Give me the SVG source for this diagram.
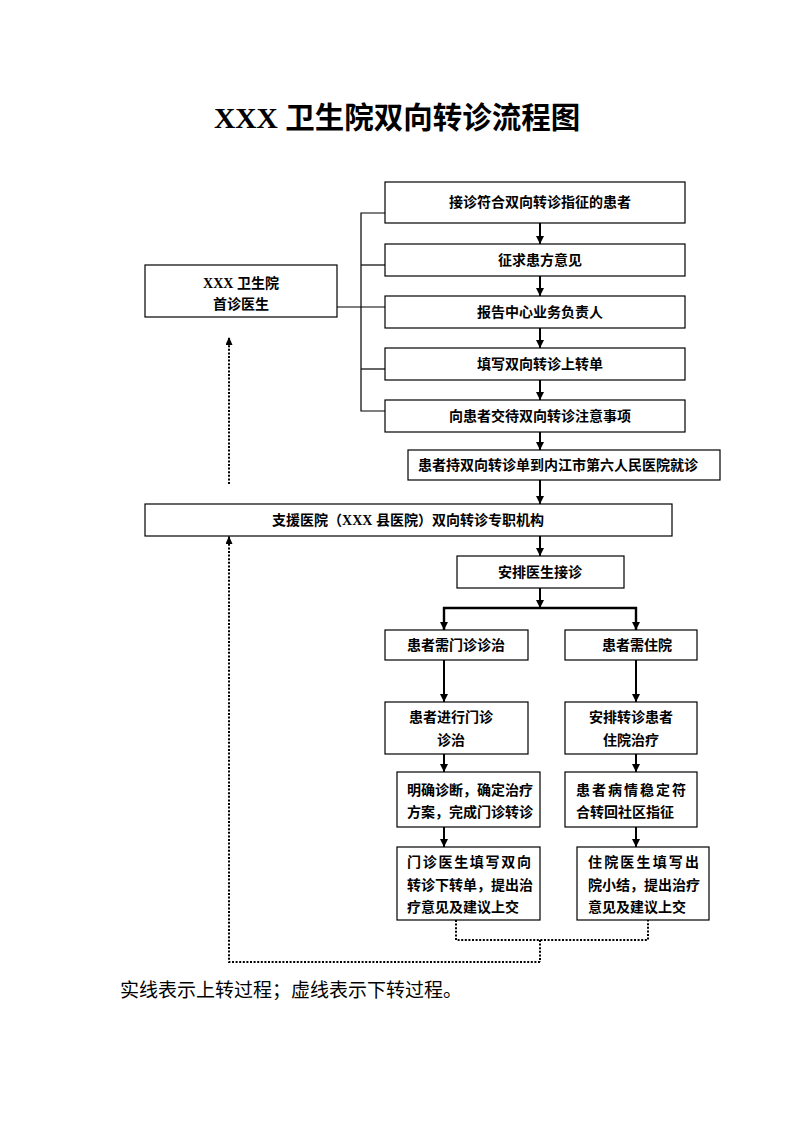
<svg xmlns="http://www.w3.org/2000/svg" width="793" height="1122" viewBox="0 0 793 1122">
<style>
.box{fill:#fff;stroke:#000;stroke-width:1.2}
.t{font-family:"Liberation Serif","Noto Sans CJK SC",serif;font-size:14px;font-weight:bold;fill:#000}
.c{text-anchor:middle}
.thin{stroke:#000;stroke-width:1.2;fill:none}
.arr{stroke:#000;stroke-width:2;fill:none;marker-end:url(#ah)}
.dot{stroke:#000;stroke-width:2;fill:none;stroke-dasharray:2,1.6}
.darr{stroke:#000;stroke-width:2;fill:none;stroke-dasharray:2,1.6;marker-end:url(#ah2)}
</style>
<defs>
<marker id="ah" markerUnits="userSpaceOnUse" markerWidth="9" markerHeight="9" refX="8" refY="4" orient="auto"><path d="M0,0 L8,4 L0,8 z" fill="#000"/></marker>
<marker id="ah2" markerUnits="userSpaceOnUse" markerWidth="9" markerHeight="9" refX="8" refY="3.5" orient="auto"><path d="M0,0 L8,3.5 L0,7 z" fill="#000"/></marker>
</defs>
<rect width="793" height="1122" fill="#fff"/>
<text x="214" y="128" style="font-family:'Liberation Serif','Noto Sans CJK SC',serif;font-size:29.5px;font-weight:bold">XXX 卫生院双向转诊流程图</text>

<g id="connectors">
<polyline class="thin" points="385,213 361,213 361,411 385,411"/>
<line class="thin" x1="361" y1="265" x2="385" y2="265"/>
<line class="thin" x1="337" y1="307" x2="385" y2="307"/>
<line class="thin" x1="361" y1="369" x2="385" y2="369"/>
<line class="arr" x1="540" y1="223" x2="540" y2="244"/>
<line class="arr" x1="540" y1="276" x2="540" y2="296"/>
<line class="arr" x1="540" y1="328" x2="540" y2="348"/>
<line class="arr" x1="540" y1="380" x2="540" y2="400"/>
<line class="arr" x1="540" y1="432" x2="540" y2="450"/>
<line class="arr" x1="540" y1="480" x2="540" y2="504"/>
<line class="arr" x1="540" y1="536" x2="540" y2="556"/>
<line class="arr" x1="540" y1="588" x2="540" y2="608"/>
<polyline style="stroke:#000;stroke-width:2.4;fill:none" points="444,630 444,608 636,608 636,630"/>
<line class="arr" x1="444" y1="608" x2="444" y2="630"/>
<line class="arr" x1="636" y1="608" x2="636" y2="630"/>
<line class="arr" x1="444" y1="660" x2="444" y2="702"/>
<line class="arr" x1="636" y1="660" x2="636" y2="702"/>
<line class="arr" x1="444" y1="754" x2="444" y2="772"/>
<line class="arr" x1="636" y1="754" x2="636" y2="772"/>
<line class="arr" x1="444" y1="827" x2="444" y2="847"/>
<line class="arr" x1="636" y1="827" x2="636" y2="847"/>
<polyline class="dot" points="456,920 456,940 648,940 648,920"/>
<line class="dot" x1="540" y1="940" x2="540" y2="962"/>
<polyline class="darr" points="540,962 229,962 229,536"/>
<line class="darr" x1="229" y1="484" x2="229" y2="337"/>
</g>

<g id="n_first"><rect class="box" x="145" y="265" width="192" height="52"/>
<text class="t c" x="241" y="288">XXX 卫生院</text><text class="t c" x="241" y="309">首诊医生</text></g>
<g id="n_a"><rect class="box" x="385" y="182" width="300" height="41"/><text class="t c" x="540" y="207">接诊符合双向转诊指征的患者</text></g>
<g id="n_b"><rect class="box" x="385" y="244" width="300" height="32"/><text class="t c" x="540" y="265">征求患方意见</text></g>
<g id="n_c"><rect class="box" x="385" y="296" width="300" height="32"/><text class="t c" x="540" y="317">报告中心业务负责人</text></g>
<g id="n_d"><rect class="box" x="385" y="348" width="300" height="32"/><text class="t c" x="540" y="369">填写双向转诊上转单</text></g>
<g id="n_e"><rect class="box" x="385" y="400" width="300" height="32"/><text class="t c" x="540" y="421">向患者交待双向转诊注意事项</text></g>
<g id="n_f"><rect class="box" x="408" y="450" width="312" height="30"/><text class="t c" x="558" y="470">患者持双向转诊单到内江市第六人民医院就诊</text></g>
<g id="n_g"><rect class="box" x="145" y="504" width="527" height="32"/><text class="t c" x="408" y="525">支援医院（XXX 县医院）双向转诊专职机构</text></g>
<g id="n_h"><rect class="box" x="457" y="556" width="167" height="32"/><text class="t c" x="540" y="577">安排医生接诊</text></g>
<g id="n_i"><rect class="box" x="385" y="630" width="143" height="30"/><text class="t c" x="456" y="650">患者需门诊诊治</text></g>
<g id="n_j"><rect class="box" x="565" y="630" width="132" height="30"/><text class="t c" x="637" y="650">患者需住院</text></g>
<g id="n_k"><rect class="box" x="385" y="702" width="143" height="52"/>
<text class="t" x="409" y="722">患者进行门诊</text><text class="t c" x="451" y="745">诊治</text></g>
<g id="n_l"><rect class="box" x="565" y="702" width="132" height="52"/>
<text class="t c" x="631" y="722">安排转诊患者</text><text class="t c" x="631" y="745">住院治疗</text></g>
<g id="n_m"><rect class="box" x="397" y="772" width="143" height="55"/>
<text class="t" x="407" y="795">明确诊断，确定治疗</text><text class="t" x="407" y="817">方案，完成门诊转诊</text></g>
<g id="n_n"><rect class="box" x="565" y="772" width="132" height="55"/>
<text class="t" x="576" y="795" textLength="110" lengthAdjust="spacing">患者病情稳定符</text><text class="t" x="576" y="817">合转回社区指征</text></g>
<g id="n_o"><rect class="box" x="397" y="847" width="143" height="73"/>
<text class="t" x="407" y="867" textLength="124" lengthAdjust="spacing">门诊医生填写双向</text><text class="t" x="407" y="890">转诊下转单，提出治</text><text class="t" x="407" y="912">疗意见及建议上交</text></g>
<g id="n_p"><rect class="box" x="577" y="847" width="132" height="73"/>
<text class="t" x="588" y="867" textLength="111" lengthAdjust="spacing">住院医生填写出</text><text class="t" x="588" y="890">院小结，提出治疗</text><text class="t" x="588" y="912">意见及建议上交</text></g>

<text x="120" y="997" style="font-family:'Noto Sans CJK SC',sans-serif;font-size:19px;fill:#000">实线表示上转过程；虚线表示下转过程。</text>
</svg>
